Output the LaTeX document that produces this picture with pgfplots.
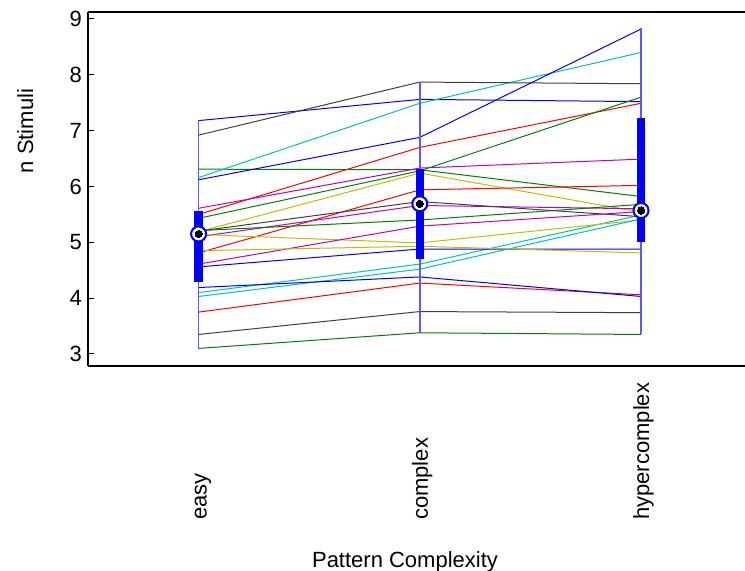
\documentclass[border=0pt]{standalone}
\usepackage{pgfplots}
\pgfplotsset{compat=1.18}
\usepackage{fontspec}
\setmainfont{Liberation Sans}
\definecolor{mb}{rgb}{0,0,1}
\definecolor{mg}{rgb}{0,0.5,0}
\definecolor{mr}{rgb}{1,0,0}
\definecolor{mc}{rgb}{0,0.75,0.75}
\definecolor{mm}{rgb}{0.75,0,0.75}
\definecolor{my}{rgb}{0.75,0.75,0}
\definecolor{mk}{rgb}{0.25,0.25,0.25}
\definecolor{whisk}{rgb}{0.35,0.35,1}
\begin{document}
\begin{tikzpicture}
\useasboundingbox (-88bp,-205bp) rectangle (657bp,366bp);
\begin{axis}[
  at={(0,0)}, anchor=south west,
  scale only axis, width=657bp, height=354bp,
  xmin=0.5, xmax=3.47, ymin=2.785, ymax=9.125,
  axis lines*=left,
  axis line style={black, line width=1.2bp},
  xtick={1,2,3},
  xticklabels={easy,complex,hypercomplex},
  x tick style={draw=none},
  ytick={3,4,5,6,7,8,9},
  y tick style={black, line width=1bp},
  tick align=inside,
  major tick length=6bp,
  /pgf/number format/assume math mode=true,
  every tick label/.append style={font=\fontsize{22bp}{26bp}\selectfont},
  yticklabel style={inner sep=0pt, xshift=-6bp},
  xticklabel style={xshift=8bp, yshift=-154bp, rotate=90, anchor=base west, inner sep=0pt},
  xlabel={Pattern Complexity},
  ylabel={n Stimuli},
  label style={font=\fontsize{22bp}{26bp}\selectfont, inner sep=0pt},
  xlabel style={at={(axis description cs:0.4825,-0.5678)}, anchor=base},
  ylabel style={at={(axis description cs:-0.0837,0.664)}, anchor=base},
  every axis plot/.append style={line width=1bp},
]
% individual subjects
\addplot[mb] coordinates {(1,7.18)(2,7.56)(3,7.52)};
\addplot[mg] coordinates {(1,6.31)(2,6.30)(3,5.82)};
\addplot[mr] coordinates {(1,5.50)(2,6.70)(3,7.49)};
\addplot[mc] coordinates {(1,6.16)(2,7.49)(3,8.40)};
\addplot[mm] coordinates {(1,5.61)(2,6.33)(3,6.49)};
\addplot[my] coordinates {(1,5.19)(2,6.24)(3,5.54)};
\addplot[mk] coordinates {(1,6.92)(2,7.87)(3,7.84)};
\addplot[mb] coordinates {(1,6.12)(2,6.88)(3,8.82)};
\addplot[mg] coordinates {(1,5.43)(2,6.28)(3,7.60)};
\addplot[mr] coordinates {(1,4.81)(2,5.94)(3,6.02)};
\addplot[mc] coordinates {(1,4.10)(2,4.61)(3,5.49)};
\addplot[mm] coordinates {(1,5.10)(2,5.66)(3,5.60)};
\addplot[my] coordinates {(1,5.14)(2,4.99)(3,5.40)};
\addplot[mk] coordinates {(1,5.20)(2,5.73)(3,5.46)};
\addplot[mb] coordinates {(1,4.56)(2,4.88)(3,4.88)};
\addplot[mg] coordinates {(1,5.21)(2,5.40)(3,5.68)};
\addplot[mr] coordinates {(1,3.75)(2,4.27)(3,4.06)};
\addplot[mc] coordinates {(1,4.03)(2,4.52)(3,5.42)};
\addplot[mm] coordinates {(1,4.61)(2,5.29)(3,5.55)};
\addplot[my] coordinates {(1,4.85)(2,4.93)(3,4.81)};
\addplot[mk] coordinates {(1,3.35)(2,3.76)(3,3.74)};
\addplot[mb] coordinates {(1,4.19)(2,4.38)(3,4.03)};
\addplot[mg] coordinates {(1,3.10)(2,3.38)(3,3.35)};
% whiskers
\addplot[whisk, line width=1.5bp] coordinates {(1,3.09)(1,7.19)};
\addplot[whisk, line width=1.5bp] coordinates {(2,3.38)(2,7.87)};
\addplot[whisk, line width=1.5bp] coordinates {(3,3.35)(3,8.83)};
% boxes
\addplot[mb, line width=8.5bp] coordinates {(1,4.29)(1,5.56)};
\addplot[mb, line width=8.5bp] coordinates {(2,4.70)(2,6.31)};
\addplot[mb, line width=8.5bp] coordinates {(3,5.01)(3,7.23)};
% medians
\addplot[only marks, mark=*, mark size=7.5bp, mark options={fill=white, draw=mb, line width=2bp}] coordinates {(1,5.15)(2,5.69)(3,5.57)};
\addplot[only marks, mark=*, mark size=3.6bp, mark options={fill=black, draw=black, line width=0pt}] coordinates {(1,5.15)(2,5.69)(3,5.57)};
\draw[black, line width=1.2bp] (rel axis cs:0,1) -- (rel axis cs:1,1);
\end{axis}
\end{tikzpicture}
\end{document}
